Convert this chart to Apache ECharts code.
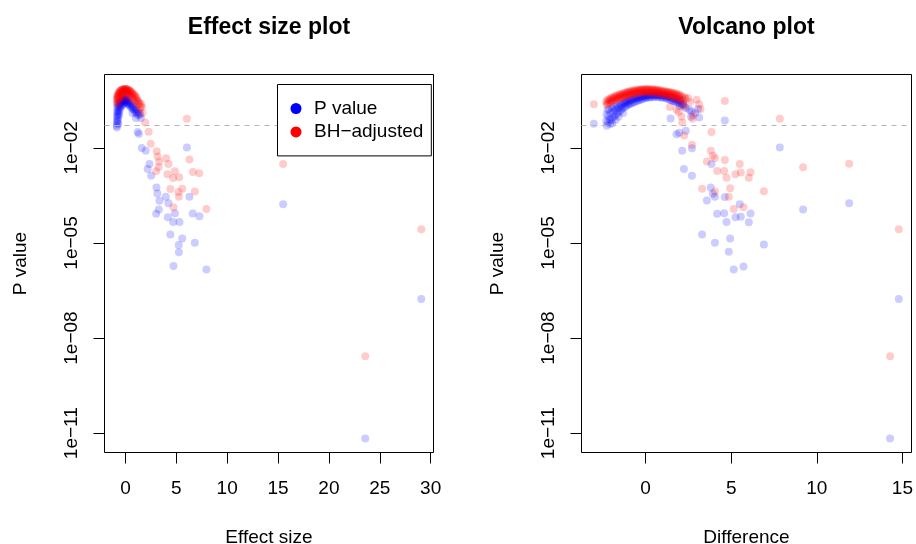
<!DOCTYPE html>
<html><head><meta charset="utf-8">
<script src="https://cdn.jsdelivr.net/npm/echarts@6/dist/echarts.min.js"></script>
<style>html,body{margin:0;padding:0;background:#fff}#chart{width:916px;height:544px}</style>
</head><body><div id="chart"></div>
<script>
// ---- Data: [x, log10(P)] pairs ----
const panelTitles = ['Effect size plot', 'Volcano plot'];
const xNames = ['Effect size', 'Difference'];
const yName = 'P value';
const seriesNames = ['P value', 'BH\u2212adjusted'];
const effectTicks = [0, 5, 10, 15, 20, 25, 30];
const volcanoTicks = [0, 5, 10, 15];
const yTicksLog10 = [-2, -5, -8, -11];
const alphaLevel = 0.05;

const effectPval = [
 [-0.86,-1.3],[-0.85,-1.15],[-0.84,-1.0],[-0.83,-0.85],[-0.82,-1.22],[-0.8,-0.72],[-0.79,-0.95],[-0.78,-1.08],
 [-0.76,-0.62],[-0.74,-0.8],[-0.72,-0.9],[-0.7,-1.02],[-0.68,-0.58],[-0.66,-0.72],[-0.63,-0.85],[-0.6,-0.55],
 [-0.58,-0.66],[-0.55,-0.78],[-0.52,-0.52],[-0.5,-0.62],[-0.47,-0.72],[-0.44,-0.5],[-0.42,-0.58],[-0.38,-0.68],
 [-0.35,-0.48],[-0.32,-0.55],[-0.28,-0.64],[-0.25,-0.47],[-0.22,-0.53],[-0.18,-0.6],[-0.15,-0.46],[-0.12,-0.52],
 [-0.08,-0.58],[-0.05,-0.45],[-0.02,-0.5],[0.02,-0.45],[0.05,-0.52],[0.08,-0.47],[0.12,-0.56],[0.16,-0.49],
 [0.2,-0.6],[0.25,-0.52],[0.3,-0.62],[0.35,-0.55],[0.4,-0.66],[0.45,-0.58],[0.5,-0.7],[0.55,-0.62],
 [0.62,-0.74],[0.68,-0.66],[0.75,-0.78],[0.8,-0.7],[0.88,-0.82],[0.95,-0.75],[1.0,-0.88],[1.05,-0.8],
 [1.12,-0.92],[1.2,-0.85],[1.28,-0.97],[1.36,-0.9],[1.45,-0.95],[1.52,-1.06],[1.02,-1.06],[0.7,-0.9],
 [-0.6,-0.95],[-0.75,-1.15],[0,-0.3],[-0.3,-0.35],[0.3,-0.38],[-0.84,-1.36],[-0.7,-1.25],
 [1.2,-1.5],[1.32,-1.56],[1.61,-2.0],[1.99,-2.09],[2.36,-2.51],[2.18,-2.67],[2.53,-2.88],[3.05,-3.25],
 [3.14,-3.44],[3.97,-3.54],[3.34,-3.67],[4.22,-3.75],[6.29,-3.54],[3.28,-3.94],[3.02,-4.08],[4.86,-4.06],
 [6.61,-4.07],[7.27,-4.16],[4.17,-4.19],[4.69,-4.34],[5.31,-4.34],[4.41,-4.73],[5.58,-4.86],[5.23,-5.06],
 [6.82,-4.99],[5.25,-5.29],[4.72,-5.73],[7.96,-5.84],[6.04,-1.99],[15.5,-3.78],[29.08,-6.77],[23.57,-11.17]
];
const effectPadj = [
 [-0.86,-0.62],[-0.85,-0.48],[-0.83,-0.4],[-0.82,-0.55],[-0.8,-0.36],[-0.78,-0.46],[-0.75,-0.32],[-0.73,-0.42],
 [-0.7,-0.28],[-0.68,-0.38],[-0.65,-0.25],[-0.62,-0.34],[-0.6,-0.45],[-0.58,-0.22],[-0.55,-0.3],[-0.52,-0.2],
 [-0.5,-0.4],[-0.48,-0.27],[-0.45,-0.18],[-0.42,-0.25],[-0.4,-0.35],[-0.37,-0.17],[-0.34,-0.23],[-0.3,-0.16],
 [-0.28,-0.3],[-0.25,-0.21],[-0.22,-0.15],[-0.2,-0.27],[-0.17,-0.19],[-0.14,-0.14],[-0.1,-0.24],[-0.07,-0.17],
 [-0.04,-0.14],[0,-0.22],[0.02,-0.15],[0.05,-0.14],[0.08,-0.2],[0.1,-0.28],[0.12,-0.15],[0.16,-0.21],
 [0.2,-0.16],[0.22,-0.3],[0.25,-0.22],[0.3,-0.17],[0.33,-0.26],[0.38,-0.19],[0.42,-0.34],[0.45,-0.23],
 [0.5,-0.2],[0.54,-0.3],[0.6,-0.24],[0.63,-0.4],[0.68,-0.28],[0.72,-0.34],[0.78,-0.3],[0.82,-0.45],
 [0.88,-0.36],[0.92,-0.33],[0.98,-0.42],[1.02,-0.52],[1.08,-0.4],[1.14,-0.48],[1.2,-0.52],[1.25,-0.62],
 [1.32,-0.55],[1.4,-0.6],[1.48,-0.7],[1.56,-0.62],[1.62,-0.72],[1.67,-0.9],[1.4,-0.8],[-0.6,-0.55],
 [-0.3,-0.42],[0.3,-0.45],[0.9,-0.58],
 [1.94,-1.2],[2.28,-1.49],[2.48,-1.87],[3.07,-2.11],[3.17,-2.27],[3.31,-2.44],[4.0,-2.33],[3.26,-2.61],
 [3.02,-2.74],[4.23,-2.51],[6.29,-2.37],[4.86,-2.74],[4.13,-2.83],[4.69,-2.95],[5.28,-2.93],[6.63,-2.76],
 [7.25,-2.8],[4.42,-3.3],[5.58,-3.29],[5.21,-3.39],[6.82,-3.38],[5.25,-3.54],[4.72,-3.87],[7.96,-3.93],
 [6.04,-1.08],[15.5,-2.51],[29.08,-4.57],[23.57,-8.57]
];
const volcanoPval = [
 [-2.3,-1.15],[-2.28,-0.95],[-2.26,-1.3],[-2.22,-0.8],[-2.2,-1.2],[-2.17,-1.0],[-2.13,-0.78],[-2.1,-1.1],
 [-2.07,-1.25],[-2.04,-0.9],[-2.0,-1.12],[-1.97,-0.75],[-1.95,-1.22],[-1.92,-1.04],[-1.89,-0.85],[-1.85,-0.7],
 [-1.82,-1.0],[-1.78,-0.8],[-1.75,-1.12],[-1.72,-0.95],[-1.69,-0.65],[-1.66,-0.76],[-1.62,-0.9],[-1.58,-1.02],
 [-1.55,-0.72],[-1.52,-0.85],[-1.48,-0.6],[-1.45,-0.68],[-1.42,-0.8],[-1.38,-0.65],[-1.35,-0.75],[-1.31,-0.9],
 [-1.28,-0.55],[-1.25,-0.6],[-1.22,-0.72],[-1.18,-0.58],[-1.14,-0.68],[-1.1,-0.5],[-1.07,-0.55],[-1.03,-0.65],
 [-1.0,-0.52],[-0.96,-0.62],[-0.92,-0.45],[-0.88,-0.5],[-0.85,-0.6],[-0.8,-0.48],[-0.76,-0.58],[-0.72,-0.42],
 [-0.68,-0.46],[-0.65,-0.56],[-0.6,-0.44],[-0.56,-0.53],[-0.52,-0.39],[-0.48,-0.43],[-0.44,-0.51],[-0.4,-0.41],
 [-0.35,-0.49],[-0.31,-0.37],[-0.27,-0.4],[-0.23,-0.47],[-0.19,-0.38],[-0.15,-0.45],[-0.1,-0.34],[-0.06,-0.37],
 [-0.02,-0.43],[0.02,-0.36],[0.06,-0.42],[0.11,-0.33],[0.15,-0.35],[0.19,-0.41],[0.24,-0.34],[0.29,-0.4],
 [0.33,-0.32],[0.37,-0.34],[0.42,-0.4],[0.47,-0.33],[0.52,-0.39],[0.56,-0.32],[0.61,-0.33],[0.66,-0.39],
 [0.71,-0.34],[0.76,-0.4],[0.8,-0.33],[0.85,-0.34],[0.9,-0.41],[0.95,-0.35],[1.0,-0.42],[1.05,-0.36],
 [1.1,-0.35],[1.15,-0.43],[1.2,-0.38],[1.25,-0.45],[1.3,-0.39],[1.35,-0.38],[1.4,-0.48],[1.45,-0.41],
 [1.5,-0.5],[1.55,-0.42],[1.6,-0.52],[1.65,-0.44],[1.7,-0.54],[1.75,-0.46],[1.8,-0.56],[1.85,-0.48],
 [1.9,-0.58],[1.95,-0.5],[2.0,-0.6],[2.06,-0.52],[2.12,-0.63],[2.2,-0.66],
 [1.46,-1.07],[2.0,-0.68],[2.35,-0.74],[2.55,-0.8],[2.68,-0.85],[2.9,-0.9],[2.66,-1.02],[3.13,-1.04],
 [3.07,-0.77],[2.2,-0.62],[1.81,-1.57],[1.96,-1.52],[2.35,-1.46],
 [-3.02,-1.24],[4.63,-1.14],[7.84,-1.99],[2.14,-2.09],[2.71,-2.01],[2.24,-2.67],[2.71,-2.88],[3.85,-2.51],
 [3.81,-3.25],[3.93,-3.45],[4.05,-3.54],[3.58,-3.66],[4.63,-3.55],[5.5,-3.78],[4.18,-4.08],[4.59,-4.06],
 [5.25,-4.19],[5.56,-4.17],[6.13,-4.07],[6.03,-4.35],[4.73,-4.34],[9.2,-3.94],[11.89,-3.75],[3.3,-4.73],
 [4.05,-4.99],[4.94,-4.86],[4.86,-5.28],[6.91,-5.05],[5.15,-5.84],[5.72,-5.74],[14.79,-6.77],[14.28,-11.17]
];
const volcanoPadj = [
 [-2.3,-0.52],[-2.28,-0.64],[-2.25,-0.58],[-2.2,-0.48],[-2.17,-0.6],[-2.13,-0.53],[-2.1,-0.45],[-2.07,-0.57],
 [-2.03,-0.5],[-2.0,-0.42],[-1.97,-0.55],[-1.93,-0.47],[-1.9,-0.4],[-1.86,-0.52],[-1.83,-0.44],[-1.8,-0.37],
 [-1.76,-0.5],[-1.73,-0.42],[-1.7,-0.35],[-1.66,-0.48],[-1.63,-0.4],[-1.6,-0.33],[-1.56,-0.45],[-1.53,-0.38],
 [-1.5,-0.31],[-1.46,-0.43],[-1.43,-0.36],[-1.4,-0.3],[-1.36,-0.42],[-1.33,-0.34],[-1.3,-0.28],[-1.26,-0.4],
 [-1.23,-0.32],[-1.2,-0.26],[-1.16,-0.38],[-1.13,-0.3],[-1.1,-0.24],[-1.06,-0.36],[-1.03,-0.28],[-1.0,-0.22],
 [-0.96,-0.34],[-0.93,-0.27],[-0.9,-0.21],[-0.86,-0.33],[-0.83,-0.25],[-0.8,-0.2],[-0.76,-0.31],[-0.73,-0.24],
 [-0.7,-0.19],[-0.66,-0.3],[-0.63,-0.23],[-0.6,-0.18],[-0.56,-0.29],[-0.53,-0.22],[-0.5,-0.17],[-0.46,-0.28],
 [-0.43,-0.21],[-0.4,-0.16],[-0.36,-0.27],[-0.33,-0.2],[-0.3,-0.16],[-0.26,-0.26],[-0.23,-0.19],[-0.2,-0.15],
 [-0.16,-0.26],[-0.13,-0.19],[-0.1,-0.15],[-0.06,-0.25],[-0.03,-0.18],[0,-0.14],[0.04,-0.25],[0.07,-0.18],
 [0.1,-0.14],[0.14,-0.25],[0.17,-0.18],[0.2,-0.15],[0.24,-0.25],[0.27,-0.19],[0.3,-0.15],[0.34,-0.26],
 [0.37,-0.19],[0.4,-0.15],[0.44,-0.26],[0.47,-0.2],[0.5,-0.16],[0.54,-0.27],[0.57,-0.2],[0.6,-0.16],
 [0.64,-0.27],[0.67,-0.21],[0.7,-0.17],[0.74,-0.28],[0.77,-0.22],[0.8,-0.18],[0.84,-0.29],[0.87,-0.23],
 [0.9,-0.19],[0.94,-0.3],[0.97,-0.24],[1.0,-0.2],[1.04,-0.31],[1.07,-0.25],[1.1,-0.21],[1.14,-0.32],
 [1.17,-0.26],[1.2,-0.22],[1.24,-0.34],[1.27,-0.27],[1.3,-0.23],[1.34,-0.35],[1.37,-0.28],[1.4,-0.24],
 [1.44,-0.36],[1.47,-0.3],[1.5,-0.25],[1.54,-0.38],[1.57,-0.31],[1.6,-0.26],[1.64,-0.4],[1.67,-0.33],
 [1.7,-0.28],[1.74,-0.42],[1.77,-0.34],[1.8,-0.29],[1.84,-0.44],[1.87,-0.36],[1.9,-0.31],[1.94,-0.46],
 [1.97,-0.38],[2.0,-0.33],[2.05,-0.48],[2.1,-0.36],[2.15,-0.42],[2.2,-0.5],[2.27,-0.4],[2.35,-0.45],
 [1.42,-0.71],[1.81,-0.8],[1.94,-0.87],[2.1,-1.01],[2.29,-0.7],[2.49,-0.43],[2.59,-0.56],[2.98,-0.48],
 [3.13,-0.62],[3.21,-0.77],[2.78,-0.96],[2.16,-0.6],
 [-3.02,-0.62],[4.63,-0.52],[7.84,-1.08],[2.14,-1.2],[2.25,-1.61],[2.74,-1.08],[3.85,-1.5],[2.71,-1.9],
 [3.81,-2.09],[3.93,-2.25],[4.05,-2.33],[3.58,-2.43],[4.63,-2.38],[5.5,-2.51],[4.18,-2.73],[4.59,-2.73],
 [5.25,-2.83],[5.56,-2.78],[6.13,-2.77],[6.03,-2.94],[4.73,-2.94],[9.2,-2.61],[11.89,-2.5],[3.3,-3.29],
 [4.05,-3.38],[4.94,-3.27],[4.86,-3.54],[6.91,-3.37],[5.15,-3.93],[5.72,-3.87],[14.79,-4.57],[14.28,-8.57]
];

// ---- Chart ----
const FONT = '"Liberation Sans", Arial, Helvetica, sans-serif';
const Y_MIN = -11.61, Y_MAX = 0.315;
const grids = [
  {left: 104.5, top: 74.5, width: 329, height: 378},
  {left: 581.5, top: 74.5, width: 330, height: 378}
];
const xRanges = [[-2.06, 30.28], [-3.74, 15.53]];
const xTicks = [effectTicks, volcanoTicks];

function yLabel(v) {
  const e = Math.round(v);
  return '1e' + (e < 0 ? '\u2212' : '') + String(Math.abs(e)).padStart(2, '0');
}

const chart = echarts.init(document.getElementById('chart'), null, {renderer: 'canvas'});

const xAxes = [0, 1].map(i => ({
  gridIndex: i, type: 'value', min: xRanges[i][0], max: xRanges[i][1],
  axisLine: {show: false, onZero: false},
  splitLine: {show: false},
  axisTick: {show: true, length: 11, customValues: xTicks[i], lineStyle: {color: '#000', width: 1}},
  axisLabel: {customValues: xTicks[i], margin: 27, fontSize: 19, color: '#000', fontFamily: FONT},
  name: xNames[i], nameLocation: 'middle', nameGap: 76,
  nameTextStyle: {fontSize: 19, color: '#000', fontFamily: FONT}
}));
const yAxes = [0, 1].map(i => ({
  gridIndex: i, type: 'value', min: Y_MIN, max: Y_MAX,
  axisLine: {show: false, onZero: false},
  splitLine: {show: false},
  axisTick: {show: true, length: 11, customValues: yTicksLog10, lineStyle: {color: '#000', width: 1}},
  axisLabel: {customValues: yTicksLog10, rotate: 90, margin: 23, fontSize: 19, color: '#000',
    fontFamily: FONT, formatter: yLabel},
  name: yName, nameLocation: 'middle', nameRotate: 90, nameGap: 74,
  nameTextStyle: {fontSize: 19, color: '#000', fontFamily: FONT}
}));

function scatter(name, data, idx, color, withLine) {
  const s = {
    name: name, type: 'scatter', xAxisIndex: idx, yAxisIndex: idx, data: data,
    symbol: 'circle', symbolSize: 8, silent: true,
    itemStyle: {color: color, opacity: 0.2},
    emphasis: {disabled: true}
  };
  if (withLine) {
    s.markLine = {
      silent: true, symbol: 'none', label: {show: false}, animation: false,
      lineStyle: {color: '#b5b5b5', type: [5, 5], width: 1},
      data: [{yAxis: Math.log10(alphaLevel)}]
    };
  }
  return s;
}

const option = {
  animation: false,
  backgroundColor: '#fff',
  grid: grids.map(g => Object.assign({show: true, borderColor: '#000', borderWidth: 1,
    backgroundColor: 'transparent', containLabel: false, outerBoundsMode: 'none'}, g)),
  xAxis: xAxes,
  yAxis: yAxes,
  graphic: panelTitles.map((t, i) => ({
    type: 'text', x: grids[i].left + grids[i].width / 2, y: 28, silent: true,
    style: {text: t, fill: '#000', font: 'bold 23px ' + FONT, align: 'center', verticalAlign: 'middle'}
  })),
  legend: {
    left: 277.5, top: 84.5, orient: 'vertical', icon: 'circle',
    itemWidth: 26, itemHeight: 11, itemGap: 3.4, padding: [14, 8, 14, 13],
    borderColor: '#000', borderWidth: 1, borderRadius: 0, backgroundColor: '#fff',
    selectedMode: false, z: 10,
    textStyle: {fontSize: 19, color: '#000', fontFamily: FONT, lineHeight: 20},
    data: [
      {name: seriesNames[0], itemStyle: {color: 'rgb(0,0,255)', opacity: 1}},
      {name: seriesNames[1], itemStyle: {color: 'rgb(255,0,0)', opacity: 1}}
    ]
  },
  series: [
    scatter(seriesNames[0], effectPval, 0, 'rgb(0,0,255)', true),
    scatter(seriesNames[1], effectPadj, 0, 'rgb(255,0,0)', false),
    scatter(seriesNames[0], volcanoPval, 1, 'rgb(0,0,255)', true),
    scatter(seriesNames[1], volcanoPadj, 1, 'rgb(255,0,0)', false)
  ]
};
chart.setOption(option);
</script>
</body></html>
